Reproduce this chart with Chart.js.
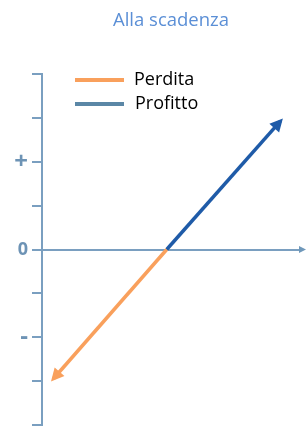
<!DOCTYPE html>
<html>
<head>
<meta charset="utf-8">
<script src="https://cdn.jsdelivr.net/npm/chart.js@4/dist/chart.umd.min.js"></script>
<style>
  html, body { margin: 0; padding: 0; background: #fff; }
  #wrap { width: 306px; height: 429px; }
</style>
</head>
<body>
<div id="wrap"><canvas id="payoff"></canvas></div>
<script>
// Valori
const xRange = [0, 6];
const yRange = [-4, 4];
const yTickValues = [2, 0, -2];
const yTickLabels = ['+', '0', '-'];
const seriesNames = ['Perdita', 'Profitto'];
const perditaX = [2.9, 0.27];
const perditaY = [0, -2.94];
const profittoX = [2.9, 5.54];
const profittoY = [0, 2.92];

const axisColor = '#7a9fc0';
const lineColors = ['#f9a05c', '#1f5ba8'];
const legendColors = ['#f9a05c', '#5b87a6'];

const toPoints = (xs, ys) => xs.map((x, i) => ({ x: x, y: ys[i] }));

// punte delle frecce + legenda interna
const arrowPlugin = {
  id: 'arrows',
  afterDatasetsDraw(chart) {
    const ctx = chart.ctx;
    const head = (x, y, ux, uy, len, half, color) => {
      ctx.save();
      ctx.fillStyle = color;
      ctx.beginPath();
      ctx.moveTo(x, y);
      ctx.lineTo(x - ux * len - uy * half, y - uy * len + ux * half);
      ctx.lineTo(x - ux * len + uy * half, y - uy * len - ux * half);
      ctx.closePath();
      ctx.fill();
      ctx.restore();
    };
    chart.data.datasets.forEach((ds, i) => {
      const pts = chart.getDatasetMeta(i).data;
      const a = pts[pts.length - 2], b = pts[pts.length - 1];
      const dx = b.x - a.x, dy = b.y - a.y;
      const d = Math.hypot(dx, dy);
      const ux = dx / d, uy = dy / d;
      head(b.x + ux * 4, b.y + uy * 4, ux, uy, 13, 6.5, ds.borderColor);
    });
    // freccia asse x
    const xs = chart.scales.x, ys = chart.scales.y;
    const y0 = ys.getPixelForValue(0);
    head(xs.right + 6, y0, 1, 0, 7, 3.5, '#6f98ba');

    // legenda
    const area = chart.chartArea;
    ctx.save();
    ctx.font = '18px "Open Sans"';
    ctx.textBaseline = 'middle';
    seriesNames.forEach((name, i) => {
      const ly = area.top + 6 + i * 24;
      ctx.strokeStyle = legendColors[i];
      ctx.lineWidth = 4;
      ctx.beginPath();
      ctx.moveTo(area.left + 33, ly);
      ctx.lineTo(area.left + 82, ly);
      ctx.stroke();
      ctx.fillStyle = '#000';
      ctx.fillText(name, area.left + 92 + i, ly);
    });
    ctx.restore();
  }
};

new Chart(document.getElementById('payoff'), {
  type: 'scatter',
  data: {
    datasets: [
      {
        label: seriesNames[0],
        data: toPoints(perditaX, perditaY),
        showLine: true,
        borderColor: lineColors[0],
        borderWidth: 3.5,
        pointRadius: 0
      },
      {
        label: seriesNames[1],
        data: toPoints(profittoX, profittoY),
        showLine: true,
        borderColor: lineColors[1],
        borderWidth: 3.5,
        pointRadius: 0
      }
    ]
  },
  options: {
    responsive: true,
    maintainAspectRatio: false,
    animation: false,
    layout: { padding: { left: 0, right: 6, top: 0, bottom: 4 } },
    plugins: {
      legend: { display: false },
      tooltip: { enabled: false },
      title: {
        display: true,
        text: 'Alla scadenza',
        fullSize: false,
        color: '#5b8fd6',
        font: { family: 'Open Sans', size: 18.5, weight: 'normal' },
        padding: { top: 10, bottom: 41.8 }
      }
    },
    scales: {
      x: {
        type: 'linear',
        min: xRange[0],
        max: xRange[1],
        position: { y: 0 },
        grid: { display: false },
        ticks: { display: false },
        border: { display: true, color: axisColor, width: 2 },
        afterFit(scale) { scale.height = 0; }
      },
      y: {
        type: 'linear',
        position: 'left',
        min: yRange[0],
        max: yRange[1],
        grid: {
          drawOnChartArea: false,
          drawTicks: true,
          tickLength: 10,
          color: axisColor,
          lineWidth: 2
        },
        border: { display: true, color: axisColor, width: 2 },
        ticks: {
          stepSize: 1,
          autoSkip: false,
          padding: 4,
          color: '#6d93b5',
          font(ctx) {
            const v = ctx.tick ? ctx.tick.value : 0;
            return { family: 'Open Sans', size: v === 0 ? 18 : 24, weight: 'bold' };
          },
          callback(value) {
            const k = yTickValues.indexOf(value);
            return k >= 0 ? yTickLabels[k] : '';
          }
        },
        afterFit(scale) {
          scale.width = 42;
          scale.paddingTop = 0;
          scale.paddingBottom = 0;
        }
      }
    }
  },
  plugins: [arrowPlugin]
});
</script>
</body>
</html>
